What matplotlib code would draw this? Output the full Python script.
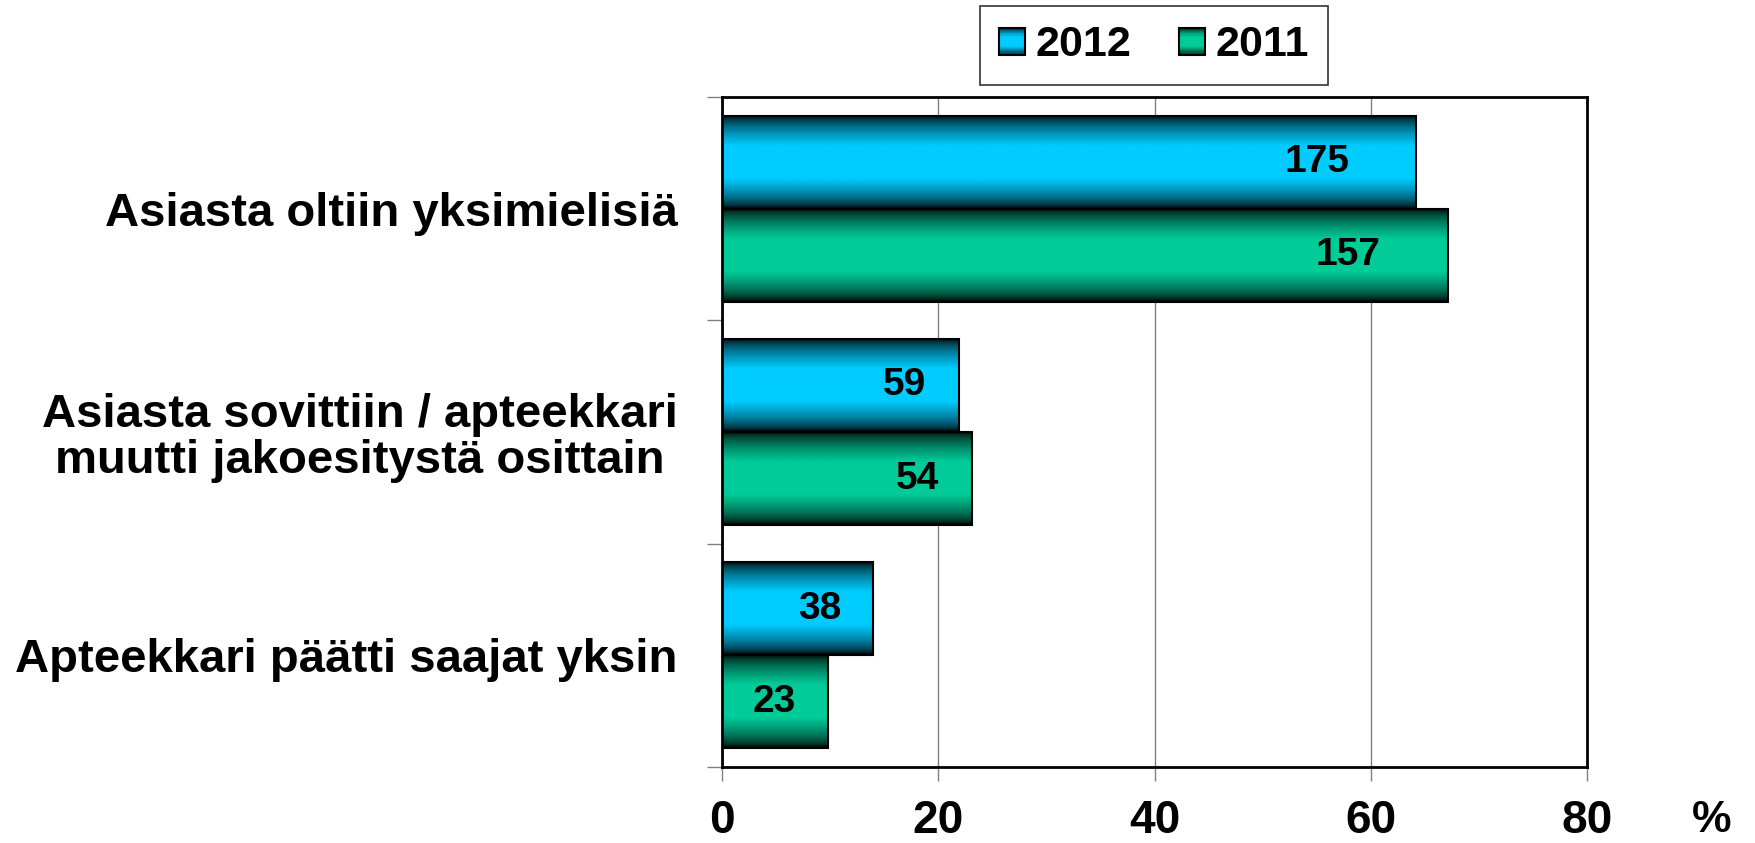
import numpy as np
import matplotlib
matplotlib.use("Agg")
import matplotlib.pyplot as plt
from matplotlib.patches import Rectangle
from matplotlib.legend_handler import HandlerBase

# ---- data ----
categories = ["Asiasta oltiin yksimielisiä",
              "Asiasta sovittiin / apteekkari\nmuutti jakoesitystä osittain",
              "Apteekkari päätti saajat yksin"]
series_names = ["2012", "2011"]
values_2012 = [64.2, 21.9, 14.0]
values_2011 = [67.1, 23.1, 9.8]
counts_2012 = ["175", "59", "38"]
counts_2011 = ["157", "54", "23"]
xticks = [0, 20, 40, 60, 80]

colors = {"2012": np.array([0.0, 0.80, 1.0]), "2011": np.array([0.0, 0.80, 0.60])}

plt.rcParams['font.family'] = ['Liberation Sans', 'DejaVu Sans']
plt.rcParams['font.weight'] = 'bold'


def profile(t):
    d = 0.5 - np.abs(np.asarray(t) - 0.5)
    return np.clip((d - 0.01) / 0.32, 0, 1) ** 0.6


def grad_image(color, n=300):
    t = np.linspace(0, 1, n)
    f = profile(t)[:, None]
    img = f * color[None, :]
    return img[:, None, :]


class GradHandler(HandlerBase):
    def __init__(self, color):
        super().__init__()
        self.color = color

    def create_artists(self, legend, orig_handle, xdescent, ydescent,
                       width, height, fontsize, trans):
        arts = []
        n = 24
        for i in range(n):
            t = (i + 0.5) / n
            c = self.color * profile(t)
            r = Rectangle((-xdescent, -ydescent + height - (i + 1) * height / n),
                          width, height / n, facecolor=c, edgecolor='none',
                          transform=trans)
            arts.append(r)
        arts.append(Rectangle((-xdescent, -ydescent), width, height, fill=False,
                              edgecolor='black', lw=1.5, transform=trans))
        return arts


fig = plt.figure(figsize=(17.55, 8.43), dpi=100)
ax = fig.add_axes([722 / 1755, 1 - 767 / 843, 865 / 1755, 670 / 843])

y = np.arange(len(categories))
h = 0.4165

bars12 = ax.barh(y - h / 2, values_2012, height=h, facecolor='none',
                 edgecolor='black', lw=1.5, zorder=3)
bars11 = ax.barh(y + h / 2, values_2011, height=h, facecolor='none',
                 edgecolor='black', lw=1.5, zorder=3)

for bars, name in [(bars12, "2012"), (bars11, "2011")]:
    img = grad_image(colors[name])
    for b in bars:
        x0, y0 = b.get_x(), b.get_y()
        w, hh = b.get_width(), b.get_height()
        ax.imshow(img, extent=[x0, x0 + w, y0 + hh, y0], aspect='auto',
                  zorder=2, interpolation='bilinear')

for bars, labels in [(bars12, counts_2012), (bars11, counts_2011)]:
    for b, lab in zip(bars, labels):
        off = 9.2 if len(lab) >= 3 else 5.0
        ax.text(b.get_width() - off, b.get_y() + b.get_height() / 2, lab,
                ha='center', va='center', fontsize=28, fontweight='bold',
                color='black', zorder=4)

ax.set_xlim(0, 80)
ax.set_ylim(len(categories) - 0.5, -0.5)

ax.set_xticks(xticks)
ax.set_xticklabels([str(v) for v in xticks], fontsize=33, fontweight='bold')
ax.tick_params(axis='x', length=10, width=1, color='#808080', pad=13)
ax.set_yticks(np.arange(len(categories) + 1) - 0.5)
ax.set_yticklabels([])
ax.tick_params(axis='y', length=11, width=1, color='#808080')
ax.set_yticks(y, minor=True)
ax.set_yticklabels(categories, minor=True, fontsize=34, fontweight='bold',
                   multialignment='center', linespacing=1.05)
ax.tick_params(axis='y', which='minor', length=0, pad=32)

ax.grid(axis='x', color='#808080', lw=1, zorder=1)
ax.set_axisbelow(True)
for s in ax.spines.values():
    s.set_color('black')
    s.set_linewidth(2)
    s.set_zorder(5)

ax.text(1.1445, -0.080, "%", transform=ax.transAxes, ha='center', va='center',
        fontsize=32, fontweight='bold')

handles = [Rectangle((0, 0), 1, 1, label=n) for n in series_names]
leg = fig.legend(handles=handles, labels=series_names, ncol=2,
                 loc='upper center', bbox_to_anchor=(1154 / 1755, 1 - 6 / 843),
                 prop={'weight': 'bold', 'size': 31},
                 handler_map={handles[0]: GradHandler(colors["2012"]),
                              handles[1]: GradHandler(colors["2011"])},
                 handlelength=0.6, handleheight=0.6, handletextpad=0.25,
                 columnspacing=1.1, fancybox=False, frameon=True,
                 borderpad=0.45, borderaxespad=0)
leg.get_frame().set_edgecolor('black')
leg.get_frame().set_linewidth(1.2)

fig.savefig("out.png", dpi=100)
